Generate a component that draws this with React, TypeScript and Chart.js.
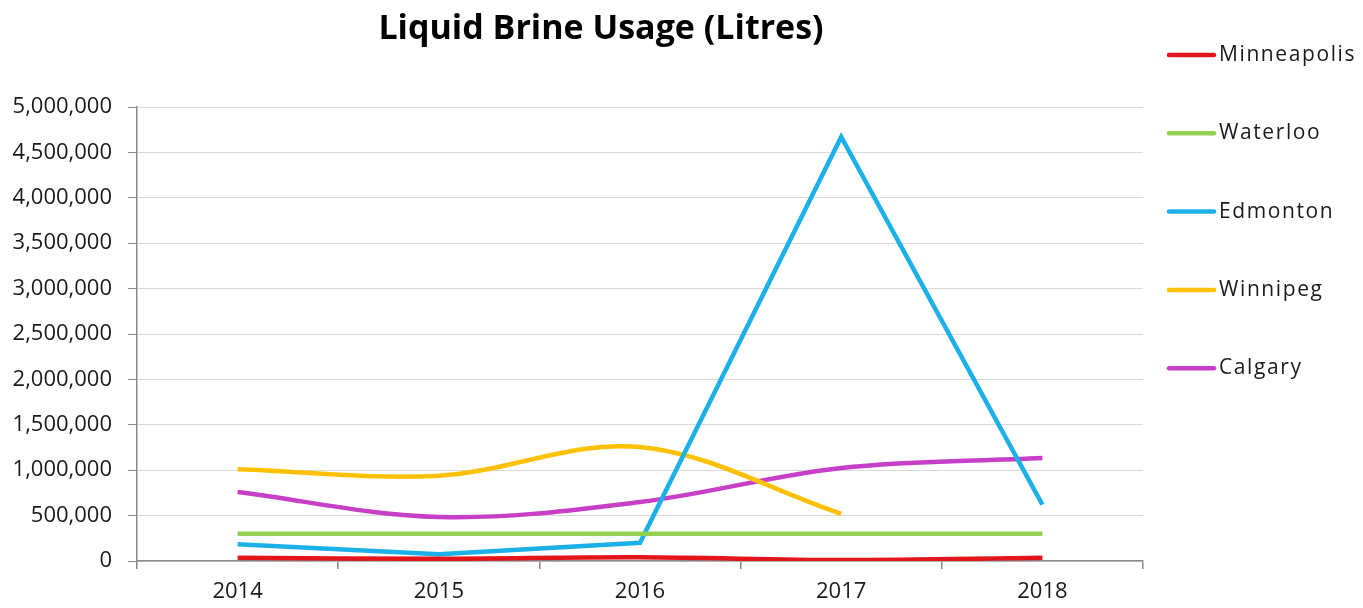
import React, { useEffect, useRef } from "react";
import { Chart, registerables } from "chart.js";

Chart.register(...registerables);

const years = ["2014", "2015", "2016", "2017", "2018"];
const minneapolis = [35000, 25000, 40000, 10000, 35000];
const waterloo = [300000, 300000, 300000, 300000, 300000];
const edmonton = [185000, 75000, 200000, 4670000, 620000];
const winnipeg = [1010000, 940000, 1255000, 520000, null];
const calgary = [760000, 485000, 650000, 1025000, 1135000];

const seriesNames = ["Minneapolis", "Waterloo", "Edmonton", "Winnipeg", "Calgary"];
const seriesColors = ["#E3151B", "#92D050", "#1CB0E8", "#FFC000", "#C63FC6"];
const seriesTension = [0.35, 0, 0, 0.35, 0.35];

const titleText = "Liquid Brine Usage (Litres)";
const FONT = "'Open Sans', Lato, sans-serif";

const overlayPlugin = {
  id: "overlay",
  afterDraw(chart: any) {
    const ctx = chart.ctx;
    ctx.save();
    // Title
    ctx.fillStyle = "#000000";
    ctx.font = `bold 34px ${FONT}`;
    ctx.textAlign = "center";
    ctx.textBaseline = "alphabetic";
    ctx.fillText(titleText, 601, 39);
    // Legend
    const ds = chart.data.datasets;
    const startY = 55;
    const gap = 78.3;
    ds.forEach((d: any, i: number) => {
      const y = startY + i * gap;
      ctx.strokeStyle = d.borderColor;
      ctx.lineWidth = 4.5;
      ctx.lineCap = "round";
      ctx.beginPath();
      ctx.moveTo(1169, y);
      ctx.lineTo(1214, y);
      ctx.stroke();
      ctx.fillStyle = "#1a1a1a";
      ctx.font = `21px ${FONT}`;
      try {
        (ctx as any).letterSpacing = "1.6px";
      } catch (e) {}
      ctx.textAlign = "left";
      ctx.textBaseline = "middle";
      ctx.fillText(d.label, 1219, y);
      try {
        (ctx as any).letterSpacing = "0px";
      } catch (e) {}
    });
    ctx.restore();
  },
};

export default function App() {
  const canvasRef = useRef<HTMLCanvasElement | null>(null);

  useEffect(() => {
    if (!canvasRef.current) return;
    const seriesData = [minneapolis, waterloo, edmonton, winnipeg, calgary];
    const chart = new Chart(canvasRef.current, {
      type: "line",
      data: {
        labels: years,
        datasets: seriesNames.map((name, i) => ({
          label: name,
          data: seriesData[i],
          borderColor: seriesColors[i],
          backgroundColor: seriesColors[i],
          borderWidth: 4.5,
          pointRadius: 0,
          tension: seriesTension[i],
          fill: false,
        })),
      },
      options: {
        animation: false,
        responsive: true,
        maintainAspectRatio: false,
        layout: { padding: { top: 107, right: 220, bottom: 0, left: 0 } },
        plugins: {
          legend: { display: false },
          title: { display: false },
          tooltip: { enabled: false },
        },
        scales: {
          x: {
            offset: true,
            afterFit: (s: any) => {
              s.height = 47;
            },
            grid: {
              offset: true,
              drawOnChartArea: false,
              drawTicks: true,
              tickLength: 8,
              tickColor: "#888888",
              lineWidth: 1.5,
            },
            border: { color: "#888888", width: 1.5 },
            ticks: {
              color: "#1a1a1a",
              font: { family: FONT, size: 22 },
              padding: 10,
              maxRotation: 0,
            },
          },
          y: {
            min: 0,
            max: 5000000,
            afterFit: (s: any) => {
              s.width = 137;
            },
            grid: {
              color: "#D9D9D9",
              lineWidth: 1,
              tickLength: 9,
              tickColor: "#888888",
            },
            border: { color: "#888888", width: 1.5 },
            ticks: {
              stepSize: 500000,
              color: "#1a1a1a",
              font: { family: FONT, size: 22 },
              padding: 16,
              callback: (v: any) => Number(v).toLocaleString("en-US"),
            },
          },
        },
      },
      plugins: [overlayPlugin],
    });
    return () => chart.destroy();
  }, []);

  return (
    <div style={{ position: "absolute", left: 0, top: 0, width: 1363, height: 608, background: "#ffffff" }}>
      <canvas ref={canvasRef} />
    </div>
  );
}
